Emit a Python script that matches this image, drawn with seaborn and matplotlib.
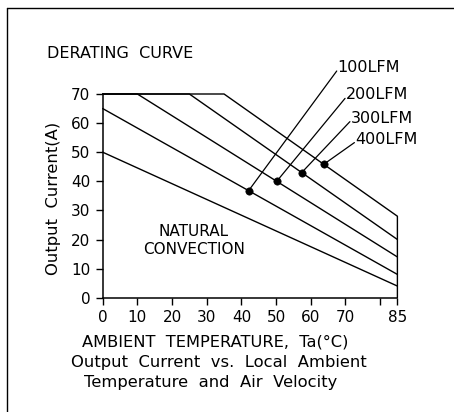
import matplotlib
matplotlib.use("Agg")
import matplotlib.pyplot as plt
import seaborn as sns
import pandas as pd
from matplotlib.lines import Line2D

sns.set_theme(style="white")
plt.rcParams['font.family'] = ['DejaVu Sans']
plt.rcParams['text.color'] = 'black'
plt.rcParams['xtick.color'] = 'black'
plt.rcParams['ytick.color'] = 'black'

# Data
series = ["NATURAL CONVECTION", "100LFM", "200LFM", "300LFM", "400LFM"]
temps = {
    "NATURAL CONVECTION": [0, 85],
    "100LFM": [0, 85],
    "200LFM": [0, 10, 85],
    "300LFM": [0, 25, 85],
    "400LFM": [0, 35, 85, 85],
}
currents = {
    "NATURAL CONVECTION": [50, 4],
    "100LFM": [65, 8],
    "200LFM": [70, 70, 14],
    "300LFM": [70, 70, 20],
    "400LFM": [70, 70, 28, 0],
}
dot_labels = ["100LFM", "200LFM", "300LFM", "400LFM"]
dot_x = [42.1, 50.2, 57.4, 63.7]
dot_y = [36.8, 40.0, 43.0, 45.8]
label_anchor_x = [67.5, 69.9, 71.3, 72.6]
label_anchor_y = [77.9, 68.5, 60.5, 53.3]
xticks = [0, 10, 20, 30, 40, 50, 60, 70, 80, 85]
xtick_labels = ["0", "10", "20", "30", "40", "50", "60", "70", "", "85"]
yticks = [0, 10, 20, 30, 40, 50, 60, 70]

rows = []
for s in series:
    for i, (t, c) in enumerate(zip(temps[s], currents[s])):
        rows.append({"series": s, "order": i, "temp": t, "current": c})
df = pd.DataFrame(rows)

W, H = 454, 412
fig = plt.figure(figsize=(W / 100, H / 100), dpi=100)
ax = fig.add_axes([102.7 / W, (H - 297.7) / H, 294.7 / W, 203.7 / H])

sns.lineplot(data=df, x="temp", y="current", units="series", estimator=None,
             sort=False, color="black", linewidth=1.0, ax=ax, clip_on=False)

sns.scatterplot(x=dot_x, y=dot_y, color="black", s=28, edgecolor="black",
                ax=ax, zorder=5, clip_on=False)
for dx, dy, lx, ly, lab in zip(dot_x, dot_y, label_anchor_x, label_anchor_y, dot_labels):
    ax.plot([dx, lx], [dy, ly], color="black", linewidth=0.9, clip_on=False)
    ax.text(lx + 0.2, ly + 1.2, lab, fontsize=11.5, ha="left", va="center")

ax.set_xlim(0, 85)
ax.set_ylim(0, 70)
ax.set_xticks(xticks)
ax.set_xticklabels(xtick_labels)
ax.set_yticks(yticks)
ax.tick_params(axis="both", direction="out", length=5, width=1, color="black",
               labelsize=11, pad=4, bottom=True, left=True, labelcolor="black")
for side in ["top", "right"]:
    ax.spines[side].set_visible(False)
for side in ["left", "bottom"]:
    ax.spines[side].set_color("black")
    ax.spines[side].set_linewidth(1.1)
ax.set_xlabel("")
ax.set_ylabel("")
ax.set_facecolor("white")

ax.text(0.31, 0.28, "NATURAL\nCONVECTION", transform=ax.transAxes,
        ha="center", va="center", fontsize=11, linespacing=1.2)

def ft(x, y, s, **kw):
    fig.text(x / W, 1 - y / H, s, **kw)

ft(46.7, 53, "DERATING  CURVE", fontsize=11.5, ha="left", va="center")
ft(54, 198, "Output  Current(A)", fontsize=11.8, ha="center", va="center", rotation=90)
ft(215.5, 341.7, "AMBIENT  TEMPERATURE,  Ta(°C)", fontsize=11.7, ha="center", va="center")
ft(218.5, 363, "Output  Current  vs.  Local  Ambient", fontsize=11.8, ha="center", va="center")
ft(210.3, 383, "Temperature  and  Air  Velocity", fontsize=11.8, ha="center", va="center")

fig.add_artist(Line2D([7.3 / W, 1.0], [1 - 8.3 / H, 1 - 8.3 / H], transform=fig.transFigure,
                      color="black", linewidth=1.0))
fig.add_artist(Line2D([7.3 / W, 7.3 / W], [1 - 8.3 / H, 0.0], transform=fig.transFigure,
                      color="black", linewidth=1.0))

fig.savefig("out.png", dpi=100, facecolor="white")
